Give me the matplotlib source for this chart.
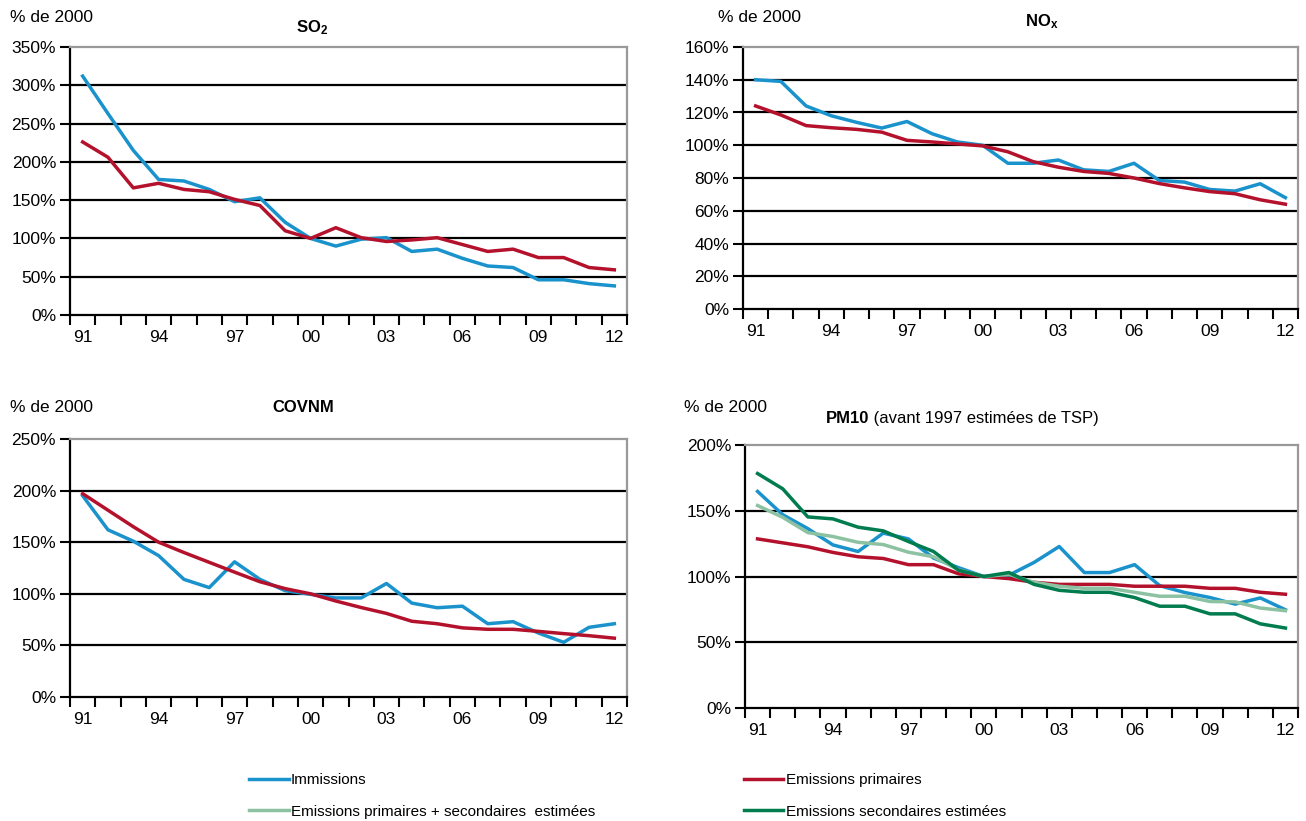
import numpy as np
import matplotlib
matplotlib.use("Agg")
from matplotlib import pyplot as plt
from matplotlib import font_manager

# font: condensed Arial-like if available
names = set(f.name for f in font_manager.fontManager.ttflist)
FONT = "Liberation Sans Narrow" if "Liberation Sans Narrow" in names else "Liberation Sans"
plt.rcParams['font.family'] = [FONT, 'DejaVu Sans']
plt.rcParams['mathtext.fontset'] = 'custom'
plt.rcParams['mathtext.rm'] = FONT
plt.rcParams['mathtext.bf'] = FONT + ':bold'

years = list(range(1991, 2013))
year_labels = ["%02d" % (y % 100) for y in years]

# SO2 (% of 2000)
so2_imm = [312, 263, 215, 177, 175, 164, 148, 153, 121, 100, 90, 99, 101, 83, 86, 74, 64, 62, 46, 46, 41, 38]
so2_prim = [226, 206, 166, 172, 164, 161, 151, 143, 110, 100, 114, 101, 96, 98, 101, 92, 83, 86, 75, 75, 62, 59]

# NOx
nox_imm = [140, 139, 124, 118, 114, 110.5, 114.5, 107, 102, 100, 89, 89, 91, 85, 84, 89, 78.5, 77.5, 73, 72, 76.5, 68]
nox_prim = [124, 118.5, 112, 110.7, 109.7, 108, 103, 102, 100.8, 99.6, 96, 90, 86.6, 84, 82.8, 80, 76.6, 74, 71.7, 70.4, 66.7, 64]

# COVNM
cov_imm = [195, 162, 151, 137, 114, 106, 131, 114, 103, 99.5, 96, 96, 110, 91, 86.5, 88, 71, 73, 62, 53, 67.5, 71]
cov_prim = [197, 181, 165, 150, 140, 130.5, 121, 111.7, 105, 100, 93, 86.7, 81, 73.4, 71, 67, 65.6, 65.6, 63.6, 61.4, 59.4, 57]

# PM10
pm_imm = [164.7, 147, 136.4, 124, 119, 133, 128.6, 114, 106.7, 100, 101, 110.7, 122.8, 103, 103, 109, 93, 87.8, 84, 79, 83.7, 74.7]
pm_prim = [128.6, 125.6, 122.6, 118.3, 115, 113.7, 109, 109, 102, 100, 98.4, 95.6, 94, 94, 94, 92.6, 92.6, 92.6, 91, 91, 88, 86.5]
pm_prim_sec = [154, 145, 133.4, 130.4, 126, 124.3, 118.5, 115, 105, 100, 101.6, 95.6, 92.6, 91, 91, 88, 85, 85, 81, 80.7, 76, 74]
pm_sec = [178.3, 166.7, 145.3, 143.8, 137.5, 134.7, 126.6, 119, 104.7, 100, 103, 94, 89.5, 88, 88, 84, 77.4, 77.4, 71.6, 71.6, 64, 60.8]

C_IMM = "#1a92cc"
C_PRIM = "#b4122c"
C_PRIMSEC = "#8cc2a2"
C_SEC = "#007c4f"

W, H = 1306, 821
fig = plt.figure(figsize=(W / 100, H / 100), dpi=100)

def box(left, top, right, bottom):
  return [left / W, 1 - bottom / H, (right - left) / W, (bottom - top) / H]

def setup(ax, ymax, ystep):
  x = np.arange(len(years))
  ax.set_xlim(-0.5, len(years) - 0.5)
  ax.set_ylim(0, ymax)
  ax.set_yticks(np.arange(0, ymax + 1, ystep))
  ax.set_yticklabels(["%d%%" % v for v in np.arange(0, ymax + 1, ystep)])
  ax.set_xticks(np.arange(-0.5, len(years), 1))
  ax.set_xticklabels([])
  ax.set_xticks(x[::3], minor=True)
  ax.set_xticklabels(year_labels[::3], minor=True)
  ax.tick_params(axis='x', which='major', length=7, width=1.5, direction='out')
  ax.tick_params(axis='x', which='minor', length=0, pad=11, labelsize=12.5)
  ax.tick_params(axis='y', length=7, width=1.5, direction='out', pad=3, labelsize=12.5)
  # black gridlines at every tick except the axis and the top edge
  for v in np.arange(ystep, ymax, ystep):
    ax.axhline(v, color='black', lw=1.6, zorder=1)
  ax.spines['left'].set_linewidth(1.6)
  ax.spines['bottom'].set_linewidth(1.6)
  ax.spines['top'].set_color('#999999')
  ax.spines['right'].set_color('#999999')
  ax.spines['top'].set_linewidth(1.6)
  ax.spines['right'].set_linewidth(1.6)
  return x

LW = 2.5

# SO2
ax1 = fig.add_axes(box(70, 47, 627, 315))
x = setup(ax1, 350, 50)
ax1.plot(x, so2_imm, color=C_IMM, lw=LW, zorder=3)
ax1.plot(x, so2_prim, color=C_PRIM, lw=LW, zorder=3)

# NOx
ax2 = fig.add_axes(box(743, 47, 1298, 309))
x = setup(ax2, 160, 20)
ax2.plot(x, nox_imm, color=C_IMM, lw=LW, zorder=3)
ax2.plot(x, nox_prim, color=C_PRIM, lw=LW, zorder=3)

# COVNM
ax3 = fig.add_axes(box(70, 439, 627, 697))
x = setup(ax3, 250, 50)
ax3.plot(x, cov_imm, color=C_IMM, lw=LW, zorder=3)
ax3.plot(x, cov_prim, color=C_PRIM, lw=LW, zorder=3)

# PM10
ax4 = fig.add_axes(box(745, 445, 1298, 708))
x = setup(ax4, 200, 50)
l1, = ax4.plot(x, pm_imm, color=C_IMM, lw=LW, zorder=3)
l2, = ax4.plot(x, pm_prim, color=C_PRIM, lw=LW, zorder=3)
l3, = ax4.plot(x, pm_prim_sec, color=C_PRIMSEC, lw=LW, zorder=3)
l4, = ax4.plot(x, pm_sec, color=C_SEC, lw=LW, zorder=3)

# y labels and titles
for px, py in [(10, 18), (718, 18), (10, 408), (684, 408)]:
  fig.text(px / W, 1 - py / H, "% de 2000", fontsize=12.5, va='center', ha='left')

fig.text(312 / W, 1 - 28 / H, r"$\mathbf{SO_2}$", fontsize=12, ha='center', va='center')
fig.text(1042 / W, 1 - 22 / H, r"$\mathbf{NO_x}$", fontsize=12, ha='center', va='center')
fig.text(303 / W, 1 - 408 / H, "COVNM", fontsize=12, fontweight='bold', ha='center', va='center')
t = fig.text(826 / W, 1 - 418 / H, "PM10", fontsize=12, fontweight='bold', ha='left', va='center')
ax4.annotate(" (avant 1997 estimées de TSP)", xy=(1, 0), xycoords=t, va='bottom', ha='left',
             fontsize=12, annotation_clip=False)

fig.legend([l1, l3, l2, l4],
           ["Immissions", "Emissions primaires + secondaires  estimées",
            "Emissions primaires", "Emissions secondaires estimées"],
           ncol=2, loc='upper left', bbox_to_anchor=(243 / W, 1 - 767 / H),
           frameon=False, fontsize=11, handlelength=2.6, handletextpad=0.15,
           columnspacing=9.7, labelspacing=1.15, borderaxespad=0)

fig.savefig("out.png", dpi=100)
